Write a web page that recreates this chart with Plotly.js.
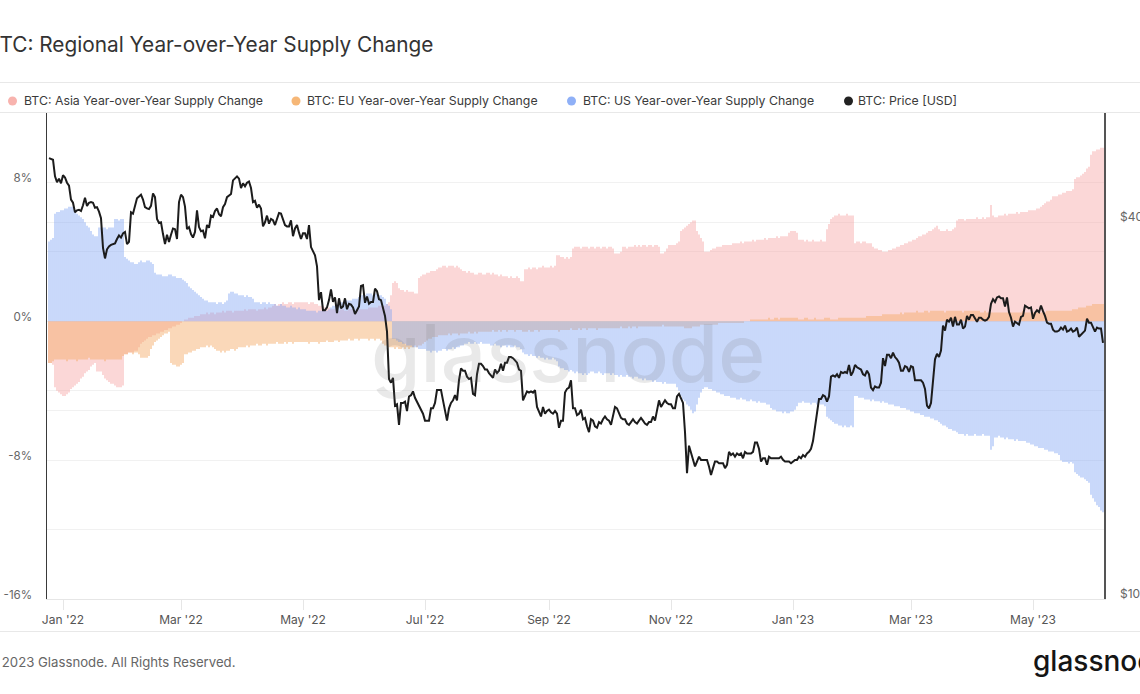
<!DOCTYPE html>
<html>
<head>
<meta charset="utf-8">
<script src="https://cdn.plot.ly/plotly-3.0.1.min.js"></script>
<style>
html,body{margin:0;padding:0;background:#fff;}
#chart{width:1140px;height:694px;}
</style>
</head>
<body>
<div id="chart"></div>
<script>
// Daily series, first day 2021-12-25, last day 2023-06-05 (528 days)
const startDate = '2021-12-25';

const seriesNames = [
  'BTC: Asia Year-over-Year Supply Change',
  'BTC: EU Year-over-Year Supply Change',
  'BTC: US Year-over-Year Supply Change',
  'BTC: Price [USD]'
];

const xTickLabels = ["Jan '22","Mar '22","May '22","Jul '22","Sep '22","Nov '22","Jan '23","Mar '23","May '23"];
const xTickDates = ['2022-01-01','2022-03-01','2022-05-01','2022-07-01','2022-09-01','2022-11-01','2023-01-01','2023-03-01','2023-05-01'];
const leftTickVals = [-16,-12,-8,-4,0,4,8];
const leftTickText = ['-16%','','-8%','','0%','','8%'];
const rightTickVals = [10,20,40];
const rightTickText = ['$10k','','$40k'];

// Asia YoY supply change (%)
const asiaChange = [
  -2.4,-2.4,-2.5,-3.8,-4.0,-4.1,-4.2,
  -4.3,-4.3,-4.2,-4.1,-3.9,-3.8,-3.7,-3.6,-3.5,-3.3,-3.2,-3.0,-2.9,-2.8,-2.6,-2.5,-2.4,-2.9,-2.9,-2.9,-3.1,-3.3,-3.4,-3.5,-3.6,-3.6,-3.7,-3.8,-3.8,-3.8,-3.7,
  -1.9,-1.9,-1.8,-1.8,-1.8,-1.7,-1.7,-1.5,-1.3,-1.2,-1.1,-1.0,-0.9,-0.9,-0.8,-0.8,-0.7,-0.7,-0.6,-0.6,-0.5,-0.5,-0.4,-0.4,-0.3,-0.3,-0.2,-0.2,
  -0.1,0.0,0.1,0.1,0.2,0.2,0.2,0.3,0.3,0.3,0.4,0.4,0.4,0.5,0.4,0.5,0.5,0.4,0.5,0.5,0.5,0.6,0.5,0.6,0.6,0.6,0.5,0.6,0.6,0.6,0.6,
  0.6,0.7,0.6,0.7,0.7,0.7,0.7,0.6,0.7,0.7,0.7,0.8,0.7,0.8,0.8,0.9,1.0,0.9,1.0,1.0,1.1,1.0,1.0,1.1,1.1,1.0,1.1,1.1,1.1,1.1,
  1.1,1.1,1.1,1.0,1.1,1.1,1.0,1.0,0.9,0.9,0.9,0.8,0.8,0.8,0.7,0.7,0.7,0.7,0.6,0.7,0.7,0.6,0.6,0.7,0.7,0.7,0.6,0.7,0.7,0.7,0.7,
  0.7,0.7,0.8,0.8,0.8,0.8,0.8,0.9,0.9,0.9,0.9,1.0,1.1,1.5,2.2,2.3,2.2,1.9,1.8,1.8,1.7,1.8,1.7,1.7,1.7,1.6,1.6,2.5,2.6,2.7,
  2.7,2.8,2.8,2.9,2.9,2.9,3.0,3.1,3.1,3.2,3.2,3.1,3.2,3.2,3.2,3.1,3.2,3.1,3.0,2.9,2.9,2.8,2.9,2.8,2.8,2.7,2.7,2.8,2.8,2.7,2.7,
  2.8,2.8,2.7,2.8,2.7,2.7,2.6,2.7,2.6,2.6,2.6,2.5,2.6,2.5,2.5,2.6,2.5,2.3,2.3,3.0,3.0,3.1,3.0,3.1,3.1,3.0,3.1,3.1,3.2,3.1,3.1,
  3.1,3.2,3.1,3.2,3.8,3.8,3.7,3.7,3.6,3.7,3.6,3.7,4.2,4.3,4.3,4.3,4.2,4.3,4.3,4.3,4.2,4.3,4.3,4.2,4.3,4.3,4.2,4.3,4.3,4.2,
  4.3,4.3,4.2,3.9,3.9,3.9,4.0,4.3,4.3,4.2,4.3,4.3,4.3,4.4,4.3,4.4,4.3,4.4,4.4,4.3,4.4,4.4,4.3,4.4,4.4,4.3,3.9,3.9,4.0,4.2,4.4,
  4.4,4.4,4.4,4.5,4.6,5.2,5.3,5.4,5.5,5.6,5.7,5.8,5.8,5.2,5.0,4.8,4.6,4.0,4.0,4.0,4.1,4.2,4.2,4.3,4.3,4.3,4.4,4.4,4.4,4.4,
  4.4,4.5,4.5,4.5,4.5,4.6,4.5,4.6,4.6,4.6,4.6,4.7,4.6,4.7,4.7,4.7,4.7,4.8,4.7,4.8,4.8,4.8,4.8,4.9,4.8,4.9,4.9,4.9,4.9,5.1,5.2,
  5.2,5.2,5.1,4.7,4.7,4.7,4.6,4.7,4.6,4.6,4.7,4.6,4.6,4.6,4.7,4.6,4.6,5.3,5.6,5.9,6.0,6.1,6.1,6.2,6.1,6.1,6.1,6.2,6.1,6.1,6.1,
  4.5,4.6,4.6,4.5,4.6,4.6,4.5,4.5,4.5,4.3,4.2,4.2,4.1,4.1,4.0,4.0,4.0,4.1,4.1,4.2,4.2,4.3,4.3,4.4,4.4,4.5,4.5,4.6,
  4.6,4.7,4.7,4.8,4.9,4.9,5.0,5.0,5.1,5.2,5.2,5.3,5.4,5.5,5.3,5.2,5.2,5.2,5.3,5.2,5.2,5.3,5.4,5.8,5.9,5.9,5.9,5.8,5.9,5.9,5.9,
  5.9,5.9,6.0,5.9,5.9,6.0,5.9,6.0,6.0,6.7,6.1,6.0,6.0,6.1,6.1,6.1,6.2,6.1,6.2,6.2,6.2,6.2,6.3,6.2,6.3,6.3,6.3,6.3,6.4,6.4,
  6.4,6.4,6.5,6.5,6.6,6.7,6.8,6.9,6.9,7.0,7.2,7.2,7.2,7.3,7.3,7.4,7.4,7.5,7.5,7.5,7.6,8.2,8.3,8.3,8.4,8.5,8.6,8.8,8.9,9.6,9.8,
  9.8,9.9,9.9,10.0,10.0
];

// EU YoY supply change (%)
const euChange = [
  -2.4,-2.4,-2.3,-2.2,-2.2,-2.2,-2.2,
  -2.2,-2.2,-2.3,-2.2,-2.2,-2.2,-2.2,-2.3,-2.2,-2.2,-2.2,-2.2,-2.2,-2.1,-2.2,-2.2,-2.2,-2.2,-2.2,-2.2,-2.2,-2.3,-2.2,-2.2,-2.2,-2.2,-2.2,-2.2,-2.2,-2.2,-2.0,
  -1.9,-1.9,-1.8,-1.8,-1.9,-1.8,-1.8,-1.9,-2.1,-2.1,-2.1,-2.1,-2.0,-1.6,-1.4,-1.2,-1.1,-1.0,-0.9,-0.8,-0.7,-0.7,-0.6,-2.4,-2.5,-2.5,-2.6,-2.6,
  -2.5,-2.4,-1.9,-1.9,-1.8,-1.8,-1.7,-1.7,-1.6,-1.6,-1.5,-1.5,-1.5,-1.4,-1.5,-1.4,-1.5,-1.6,-1.7,-1.7,-1.8,-1.7,-1.8,-1.7,-1.7,-1.6,-1.6,-1.7,-1.6,-1.5,-1.5,
  -1.5,-1.5,-1.4,-1.5,-1.4,-1.4,-1.4,-1.3,-1.4,-1.4,-1.3,-1.3,-1.4,-1.3,-1.3,-1.3,-1.3,-1.2,-1.3,-1.3,-1.3,-1.2,-1.3,-1.2,-1.2,-1.3,-1.2,-1.2,-1.2,-1.2,
  -1.2,-1.2,-1.2,-1.3,-1.2,-1.2,-1.2,-1.2,-1.3,-1.2,-1.2,-1.2,-1.1,-1.2,-1.2,-1.2,-1.1,-1.1,-1.2,-1.1,-1.1,-1.1,-1.1,-1.0,-1.1,-1.1,-1.0,-1.0,-1.1,-1.0,-1.0,
  -1.0,-1.0,-1.1,-1.0,-1.0,-1.1,-1.0,-1.0,-1.1,-1.3,-1.4,-1.4,-1.5,-1.5,-1.5,-1.6,-1.5,-1.6,-1.6,-1.5,-1.6,-1.5,-1.6,-1.5,-1.5,-1.4,-1.5,-1.4,-1.4,-1.3,
  -1.2,-1.1,-1.0,-1.0,-0.9,-0.9,-0.9,-0.8,-0.8,-0.8,-0.8,-0.8,-0.7,-0.8,-0.7,-0.7,-0.7,-0.8,-0.7,-0.7,-0.7,-0.7,-0.6,-0.7,-0.7,-0.6,-0.7,-0.6,-0.6,-0.6,-0.6,
  -0.6,-0.6,-0.6,-0.5,-0.6,-0.6,-0.5,-0.6,-0.5,-0.5,-0.6,-0.5,-0.5,-0.5,-0.6,-0.5,-0.5,-0.5,-0.6,-0.6,-0.6,-0.5,-0.6,-0.6,-0.5,-0.5,-0.6,-0.5,-0.5,-0.5,-0.5,
  -0.5,-0.5,-0.5,-0.5,-0.5,-0.6,-0.5,-0.5,-0.5,-0.5,-0.5,-0.4,-0.5,-0.5,-0.5,-0.4,-0.5,-0.4,-0.4,-0.5,-0.4,-0.4,-0.4,-0.4,-0.5,-0.4,-0.4,-0.4,-0.4,-0.4,
  -0.4,-0.4,-0.4,-0.4,-0.4,-0.4,-0.3,-0.4,-0.4,-0.4,-0.3,-0.4,-0.3,-0.3,-0.4,-0.3,-0.3,-0.3,-0.3,-0.3,-0.3,-0.3,-0.3,-0.3,-0.3,-0.3,-0.3,-0.2,-0.3,-0.3,-0.3,
  -0.3,-0.3,-0.3,-0.3,-0.3,-0.3,-0.3,-0.4,-0.4,-0.4,-0.4,-0.3,-0.3,-0.3,-0.3,-0.2,-0.2,-0.2,-0.2,-0.2,-0.2,-0.2,-0.2,-0.2,-0.1,-0.1,-0.1,-0.1,-0.1,-0.1,
  -0.1,-0.1,-0.1,-0.1,-0.1,-0.1,-0.1,0.0,0.0,0.0,0.1,0.1,0.1,0.1,0.1,0.1,0.1,0.1,0.1,0.2,0.1,0.1,0.2,0.2,0.1,0.2,0.2,0.2,0.2,0.2,0.2,
  0.2,0.2,0.2,0.1,0.1,0.1,0.2,0.2,0.1,0.1,0.1,0.2,0.1,0.1,0.1,0.1,0.2,0.2,0.2,0.1,0.1,0.1,0.1,0.2,0.2,0.2,0.2,0.2,0.2,0.2,0.2,
  0.2,0.2,0.2,0.2,0.2,0.2,0.3,0.3,0.3,0.3,0.3,0.3,0.3,0.3,0.4,0.4,0.4,0.4,0.4,0.4,0.4,0.4,0.4,0.5,0.4,0.5,0.5,0.5,
  0.5,0.5,0.5,0.6,0.5,0.5,0.5,0.6,0.6,0.5,0.6,0.6,0.6,0.6,0.6,0.6,0.6,0.5,0.6,0.6,0.6,0.6,0.6,0.6,0.6,0.6,0.5,0.6,0.6,0.6,0.6,
  0.6,0.6,0.6,0.6,0.5,0.5,0.6,0.5,0.5,0.5,0.5,0.5,0.5,0.5,0.5,0.5,0.5,0.5,0.5,0.5,0.5,0.5,0.5,0.5,0.5,0.6,0.5,0.5,0.5,0.5,
  0.5,0.5,0.5,0.5,0.5,0.5,0.5,0.6,0.6,0.6,0.6,0.6,0.6,0.6,0.6,0.6,0.6,0.6,0.6,0.6,0.7,0.7,0.7,0.8,0.8,0.8,0.8,0.9,0.9,0.9,1.0,
  1.0,1.0,1.0,1.0,1.0
];

// US YoY supply change (%)
const usChange = [
  4.6,4.7,4.8,6.2,6.3,6.3,6.4,
  6.4,6.5,6.5,6.6,6.6,6.6,6.4,6.2,6.1,6.0,5.9,5.7,5.5,5.4,5.2,5.0,4.9,4.9,5.4,5.4,5.4,5.4,5.3,5.4,5.4,5.4,5.9,5.9,5.8,5.9,5.9,
  3.7,3.6,3.5,3.4,3.4,3.3,3.3,3.4,3.5,3.4,3.4,3.5,3.5,3.4,3.3,2.8,2.7,2.7,2.7,2.6,2.6,2.6,2.7,2.7,2.6,2.6,2.5,2.5,
  2.5,2.4,2.3,2.2,2.0,1.9,1.8,1.7,1.6,1.5,1.4,1.3,1.2,1.2,1.1,1.1,1.1,1.1,1.0,1.1,1.1,1.0,1.1,1.2,1.6,1.7,1.7,1.6,1.6,1.5,1.5,
  1.5,1.4,1.5,1.4,1.4,1.3,1.1,1.1,1.1,1.0,1.1,1.1,1.0,1.1,1.0,1.0,1.0,0.9,0.9,1.0,0.9,0.9,0.8,0.8,0.9,0.8,0.8,0.7,0.8,0.7,
  0.7,0.7,0.6,0.6,0.6,0.6,0.6,0.5,0.6,0.6,0.6,0.6,0.6,0.7,0.8,0.9,0.9,1.0,1.0,1.1,1.1,1.1,1.2,1.2,1.2,1.3,1.3,1.3,1.4,1.5,1.5,
  1.5,1.6,1.6,1.6,1.5,1.6,1.6,1.5,1.5,1.4,1.3,1.0,0.9,0.7,-1.0,-1.0,-1.1,-1.2,-1.2,-1.3,-1.3,-1.4,-1.4,-1.4,-1.5,-1.5,-1.5,-1.6,-1.6,-1.6,
  -1.6,-1.7,-1.7,-1.8,-1.7,-1.7,-1.8,-1.7,-1.7,-1.6,-1.6,-1.7,-1.6,-1.6,-1.5,-1.6,-1.5,-1.5,-1.4,-1.4,-1.3,-1.3,-1.2,-1.3,-1.3,-1.2,-1.3,-1.3,-1.2,-1.3,-1.3,
  -1.3,-1.3,-1.4,-1.4,-1.3,-1.4,-1.4,-1.5,-1.4,-1.4,-1.5,-1.4,-1.5,-1.5,-1.4,-1.5,-1.5,-1.6,-1.8,-1.9,-1.9,-2.0,-1.9,-2.0,-2.0,-2.1,-2.0,-2.1,-2.1,-2.2,-2.1,
  -2.2,-2.2,-2.1,-2.2,-2.3,-2.6,-2.7,-2.7,-2.8,-2.8,-2.9,-2.8,-2.9,-3.0,-2.9,-3.0,-3.0,-3.1,-3.0,-3.1,-3.0,-2.9,-2.9,-3.0,-3.0,-2.9,-3.0,-3.1,-3.0,-3.0,
  -3.0,-3.1,-3.0,-3.1,-3.1,-3.2,-3.1,-3.2,-3.2,-3.1,-3.2,-3.2,-3.3,-3.2,-3.2,-3.3,-3.3,-3.4,-3.3,-3.4,-3.4,-3.4,-3.5,-3.4,-3.5,-3.5,-3.5,-3.6,-3.5,-3.6,-3.6,
  -3.6,-3.6,-3.6,-3.8,-4.0,-4.3,-4.5,-4.6,-4.8,-4.9,-5.1,-5.3,-5.2,-4.8,-4.4,-4.1,-3.9,-3.8,-3.8,-3.9,-3.9,-4.0,-4.0,-4.1,-4.1,-4.2,-4.2,-4.3,-4.3,-4.3,
  -4.4,-4.4,-4.4,-4.5,-4.5,-4.4,-4.5,-4.5,-4.6,-4.6,-4.5,-4.6,-4.6,-4.7,-4.6,-4.7,-4.7,-4.7,-4.8,-4.8,-5.0,-5.1,-5.1,-5.2,-5.2,-5.2,-5.3,-5.2,-5.3,-5.3,-5.2,
  -5.2,-5.1,-4.9,-4.7,-4.7,-4.6,-4.7,-4.7,-4.7,-4.8,-4.7,-4.7,-4.8,-4.7,-4.8,-4.8,-4.9,-5.5,-5.6,-5.7,-5.8,-5.9,-5.9,-6.0,-6.0,-6.1,-6.0,-6.1,-6.1,-6.0,-6.1,
  -4.3,-4.3,-4.4,-4.4,-4.4,-4.5,-4.5,-4.5,-4.6,-4.5,-4.6,-4.6,-4.6,-4.7,-4.6,-4.7,-4.7,-4.8,-4.8,-4.8,-4.9,-4.9,-4.9,-5.0,-5.0,-5.0,-5.1,-5.1,
  -5.2,-5.2,-5.3,-5.3,-5.3,-5.4,-5.4,-5.5,-5.5,-5.5,-5.6,-5.6,-5.7,-5.7,-5.8,-5.9,-6.0,-6.0,-6.1,-6.2,-6.2,-6.3,-6.3,-6.4,-6.5,-6.5,-6.5,-6.6,-6.5,-6.6,-6.6,
  -6.6,-6.5,-6.6,-6.6,-6.6,-6.5,-6.6,-6.6,-6.6,-7.4,-7.2,-6.7,-6.7,-6.6,-6.7,-6.7,-6.8,-6.7,-6.8,-6.8,-6.8,-6.9,-6.8,-6.9,-6.9,-6.9,-6.9,-7.0,-7.0,-7.1,
  -7.1,-7.2,-7.2,-7.3,-7.3,-7.3,-7.4,-7.4,-7.5,-7.5,-7.5,-7.6,-7.6,-7.7,-8.0,-8.1,-8.1,-8.1,-8.2,-8.1,-8.2,-8.7,-8.8,-8.9,-9.0,-9.0,-9.1,-9.2,-9.3,-10.0,-10.2,
  -10.4,-10.6,-10.7,-10.9,-11.0
];

// BTC price, thousands of USD
const btcPrice = [
  50.8,50.6,50.5,47.5,46.5,47.1,46.3,
  47.7,47.3,46.4,45.9,43.6,43.1,41.6,41.9,42.0,41.8,42.7,43.9,42.6,43.1,43.2,43.1,42.3,42.4,41.7,40.7,36.5,35.1,36.3,36.7,36.9,37.0,37.1,37.7,38.2,37.9,38.5,
  38.7,37.0,37.3,41.6,41.4,42.4,43.8,44.1,44.4,43.6,42.4,42.2,42.1,42.6,44.6,44.0,40.6,40.0,40.1,38.4,37.0,38.3,37.3,38.3,39.2,39.1,37.7,43.2,
  44.4,44.0,42.5,39.1,39.4,38.4,37.9,38.7,41.9,39.4,38.8,38.9,37.8,39.7,39.3,41.1,40.9,41.8,42.2,41.3,41.0,42.4,42.9,44.0,44.3,44.5,46.8,47.1,47.5,47.1,45.5,
  46.3,45.8,46.4,46.6,45.5,43.2,43.4,42.3,42.8,42.2,39.5,40.1,41.1,39.9,40.6,40.4,39.7,40.8,41.5,41.4,40.5,39.7,39.5,39.5,40.4,38.1,39.2,39.7,38.6,37.7,
  38.5,38.5,37.7,39.7,36.6,36.0,35.5,34.1,30.1,31.0,29.0,29.0,29.3,30.1,31.3,29.9,30.4,28.7,30.3,29.2,29.4,30.3,29.1,29.7,29.6,29.3,28.6,29.0,29.4,31.7,31.8,
  29.8,30.5,29.7,29.9,29.9,31.4,31.1,30.2,30.1,29.1,28.4,26.8,22.5,22.2,22.6,20.4,20.5,19.0,20.6,20.6,20.7,20.0,21.1,21.2,21.5,21.0,20.7,20.3,20.1,19.8,
  19.3,19.3,19.3,20.2,20.2,20.6,21.6,21.6,21.6,20.8,20.0,19.3,20.2,20.6,20.8,21.2,20.8,22.4,23.4,23.2,23.2,22.7,22.5,22.6,21.3,21.2,22.9,23.8,23.8,23.6,23.3,
  23.3,23.0,22.8,22.6,23.3,23.0,23.2,23.8,23.2,23.9,23.9,24.4,24.4,24.3,24.1,23.9,23.3,23.2,20.8,21.1,21.5,21.4,21.5,21.4,21.6,20.3,20.0,19.6,20.3,19.8,20.0,
  20.1,19.9,19.8,20.0,19.8,18.8,19.3,19.3,21.4,21.7,21.8,22.4,20.2,20.2,19.7,19.8,20.1,19.4,19.5,18.9,18.5,19.4,19.3,18.9,18.8,19.2,19.1,19.4,19.6,19.4,
  19.3,19.0,19.6,20.3,20.2,19.9,19.5,19.4,19.4,19.1,19.0,19.2,19.4,19.2,19.1,19.3,19.5,19.3,19.1,19.0,19.2,19.2,19.6,19.3,20.1,20.8,20.3,20.6,20.8,20.6,20.5,
  20.5,20.2,20.2,21.1,21.3,20.9,20.6,18.5,15.9,17.6,17.1,16.8,16.3,16.6,16.9,16.7,16.7,16.7,16.7,16.3,15.8,16.2,16.6,16.6,16.5,16.5,16.5,16.2,16.4,17.2,
  17.0,17.1,16.9,17.1,17.0,17.1,16.8,17.2,17.1,17.1,17.1,17.2,17.8,17.8,17.4,16.6,16.8,16.8,16.4,16.9,16.8,16.8,16.8,16.8,16.8,16.9,16.7,16.6,16.6,16.6,16.5,
  16.6,16.7,16.7,16.9,16.8,17.0,16.9,17.1,17.2,17.4,17.9,18.8,19.9,20.9,20.9,21.2,21.1,20.7,21.1,22.7,22.8,22.7,22.9,22.6,23.1,23.0,23.1,23.0,23.7,22.8,23.1,
  23.7,23.5,23.4,23.3,22.9,22.8,23.2,22.9,21.8,21.6,21.9,21.8,21.8,22.2,24.3,23.6,24.6,24.6,24.3,24.8,24.4,24.2,23.9,23.2,23.2,23.6,23.5,23.1,
  23.6,23.5,22.4,22.4,22.4,22.4,22.2,21.7,20.4,20.2,20.6,22.2,24.2,24.7,24.4,25.0,27.4,26.9,28.0,27.8,28.2,27.3,28.3,27.5,27.5,28.0,27.1,27.3,28.4,28.0,28.5,
  28.5,28.2,27.8,28.2,28.2,28.0,27.9,28.0,28.3,29.7,30.2,29.9,30.4,30.5,30.3,30.3,29.4,30.4,28.8,28.2,27.3,27.8,27.6,27.5,28.3,28.4,29.5,29.3,29.2,29.3,
  28.1,28.7,29.0,28.8,29.5,28.9,28.4,27.7,27.6,27.6,27.0,26.8,26.8,26.9,27.2,27.0,27.4,26.8,26.9,27.1,26.8,26.9,27.2,26.3,26.5,26.7,26.9,28.1,27.7,27.7,27.2,
  26.8,27.2,27.1,27.1,25.7
];

function dayDates(start, n) {
  const p = start.split('-').map(Number);
  const t0 = Date.UTC(p[0], p[1] - 1, p[2]);
  const out = [];
  for (let i = 0; i < n; i++) out.push(new Date(t0 + i * 86400000).toISOString().slice(0, 10));
  return out;
}

const COLORS = {
  asia: '#f7a0a0',
  eu: '#f5aa64',
  us: '#7da3f5',
  price: '#1c1c1c'
};

const asiaDates = dayDates(startDate, asiaChange.length);
const euDates = dayDates(startDate, euChange.length);
const usDates = dayDates(startDate, usChange.length);
const priceDates = dayDates(startDate, btcPrice.length);

const traces = [
  {type:'bar', name:seriesNames[0], x:asiaDates, y:asiaChange, marker:{color:COLORS.asia, line:{width:0}}, opacity:0.5, yaxis:'y', hoverinfo:'skip'},
  {type:'bar', name:seriesNames[1], x:euDates, y:euChange, marker:{color:COLORS.eu, line:{width:0}}, opacity:0.55, yaxis:'y', hoverinfo:'skip'},
  {type:'bar', name:seriesNames[2], x:usDates, y:usChange, marker:{color:COLORS.us, line:{width:0}}, opacity:0.5, yaxis:'y', hoverinfo:'skip'},
  {type:'scatter', mode:'lines', name:seriesNames[3], x:priceDates, y:btcPrice, yaxis:'y2', line:{color:COLORS.price, width:2}, hoverinfo:'skip'}
];

// pixel -> paper helpers (plot area: x 47..1104, y 113..599)
const L = 47, R = 1104, T = 113, B = 599;
const PX = px => (px - L) / (R - L);
const PY = py => (B - py) / (B - T);

const FONT = 'Inter, "Noto Sans", sans-serif';
const Y2_MIN = 1, Y2_MAX = Math.log10(60);

const annotations = [
  {text:'BTC: Regional Year-over-Year Supply Change', xref:'paper', yref:'paper', x:PX(-15.5), y:PY(44), xanchor:'left', yanchor:'middle', showarrow:false, font:{family:FONT, size:20.8, color:'#333'}},
  {text:'© 2023 Glassnode. All Rights Reserved.', xref:'paper', yref:'paper', x:PX(-16.5), y:PY(662), xanchor:'left', yanchor:'middle', showarrow:false, font:{family:FONT, size:13.2, color:'#666'}},
  {text:'glassnode', xref:'paper', yref:'paper', x:PX(1031), y:PY(661), xanchor:'left', yanchor:'middle', showarrow:false, font:{family:FONT, size:28, color:'#151515', weight:500}},
  {text:'glassnode', xref:'paper', yref:'paper', x:PX(568), y:PY(352), xanchor:'center', yanchor:'middle', showarrow:false, font:{family:FONT, size:80, color:'rgba(110,110,110,0.15)', weight:500}}
];

// right-axis tick labels, placed just above their grid lines
rightTickVals.forEach((v, i) => {
  if (!rightTickText[i]) return;
  const frac = (Math.log10(v) - Y2_MIN) / (Y2_MAX - Y2_MIN);
  const py = B - frac * (B - T) - 6;
  annotations.push({text:rightTickText[i], xref:'paper', yref:'paper', x:PX(1118), y:PY(py), xanchor:'left', yanchor:'middle', showarrow:false, font:{family:FONT, size:12, color:'#666'}});
});

const legendItems = [
  {label:seriesNames[0], color:'#f8b3ae', dot:12.5, text:22},
  {label:seriesNames[1], color:'#f6b777', dot:296, text:305},
  {label:seriesNames[2], color:'#8fb0f7', dot:571.5, text:581},
  {label:seriesNames[3], color:'#222222', dot:848.5, text:856}
];

const shapes = [
  {type:'line', xref:'paper', yref:'paper', x0:PX(0), x1:PX(1140), y0:PY(82.5), y1:PY(82.5), line:{color:'#e8e8e8', width:1}},
  {type:'line', xref:'paper', yref:'paper', x0:PX(0), x1:PX(1140), y0:PY(112.5), y1:PY(112.5), line:{color:'#e8e8e8', width:1}},
  {type:'line', xref:'paper', yref:'paper', x0:PX(0), x1:PX(1140), y0:PY(631.5), y1:PY(631.5), line:{color:'#e8e8e8', width:1}}
];

legendItems.forEach(it => {
  annotations.push({text:it.label, xref:'paper', yref:'paper', x:PX(it.text), y:PY(101), xanchor:'left', yanchor:'middle', showarrow:false, font:{family:FONT, size:12.3, color:'#3a3a3a'}});
  shapes.push({type:'circle', xref:'paper', yref:'paper', xsizemode:'pixel', ysizemode:'pixel', xanchor:PX(it.dot), yanchor:PY(101), x0:-4.5, x1:4.5, y0:-4.5, y1:4.5, fillcolor:it.color, line:{width:0}});
});

const layout = {
  width:1140, height:694,
  margin:{l:L, r:1140 - R, t:T, b:694 - B, pad:0},
  paper_bgcolor:'#ffffff', plot_bgcolor:'#ffffff',
  barmode:'overlay', bargap:0.18,
  showlegend:false,
  font:{family:FONT, color:'#555'},
  xaxis:{
    type:'date', range:['2021-12-24','2023-06-05 12:00'],
    tickvals:xTickDates, ticktext:xTickLabels,
    ticks:'outside', ticklen:10, tickcolor:'#e6e6e6', tickwidth:1,
    showgrid:false, zeroline:false,
    showline:true, linecolor:'#e6e6e6', linewidth:1,
    tickfont:{family:FONT, size:12, color:'#555'}
  },
  yaxis:{
    range:[-16,12], tickvals:leftTickVals, ticktext:leftTickText,
    showgrid:true, gridcolor:'#f1f1f1', gridwidth:1, zeroline:false,
    showline:true, linecolor:'#3a3a3a', linewidth:1.5,
    ticks:'', ticklabelposition:'outside top', ticklabelstandoff:11, ticklabelshift:4,
    tickfont:{family:FONT, size:11.6, color:'#666'}
  },
  yaxis2:{
    type:'log', range:[Y2_MIN, Y2_MAX], overlaying:'y', side:'right',
    tickvals:rightTickVals, ticktext:rightTickText, showticklabels:false,
    showgrid:true, gridcolor:'#f1f1f1', gridwidth:1, zeroline:false,
    showline:true, linecolor:'#555', linewidth:2, ticks:''
  },
  annotations:annotations,
  shapes:shapes
};

Plotly.newPlot('chart', traces, layout, {displayModeBar:false, staticPlot:true});
</script>
</body>
</html>
